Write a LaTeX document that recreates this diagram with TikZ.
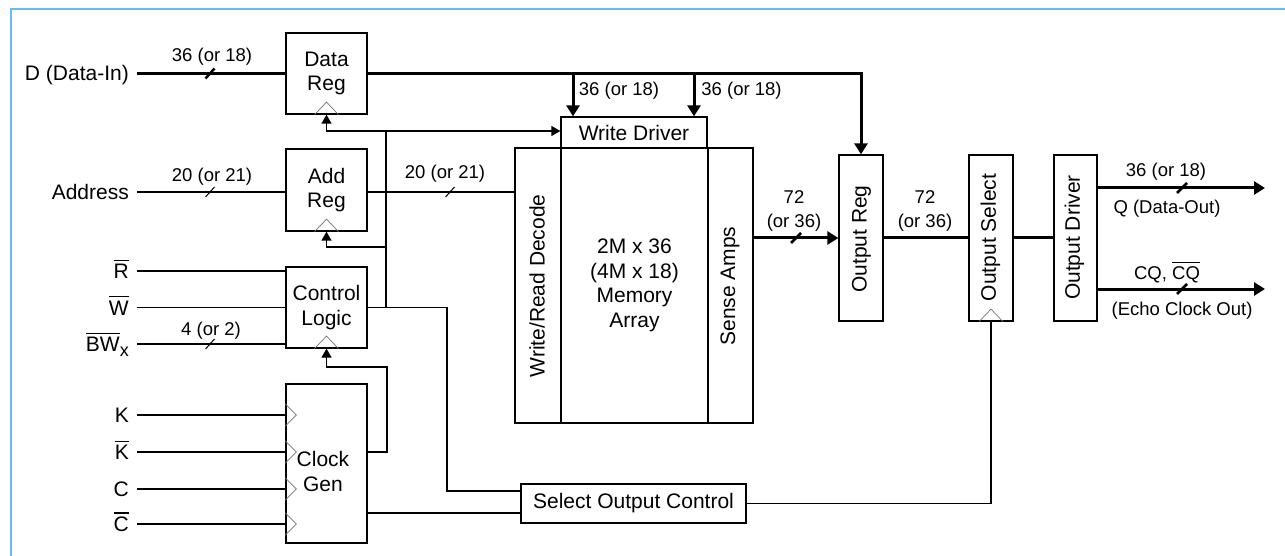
\documentclass[tikz,border=0pt]{standalone}
\usepackage{fontspec}
\setmainfont{Liberation Sans}
\usetikzlibrary{arrows.meta}
\definecolor{frameblue}{RGB}{100,187,250}
\newcommand{\olin}[1]{{\setbox0=\hbox{#1}\rlap{\raisebox{\dimexpr\ht0+3.2pt\relax}{\rule{\wd0}{1.2pt}}}\box0}}
\begin{document}
\begin{tikzpicture}[x=1pt,y=-1pt,
  every node/.style={inner sep=0pt},
  big/.style={font=\fontsize{21}{24.5}\selectfont},
  small/.style={font=\fontsize{18.5}{24}\selectfont},
  box/.style={draw, line width=1.3pt, big, align=center},
  inlbl/.style={big, anchor=east, text height=15pt, text depth=0pt},
  wire/.style={line width=1.3pt},
  bus/.style={line width=3pt},
  clktri/.style={draw=black!55, line width=0.7pt},
  arr/.style={-{Triangle[length=11pt,width=13pt]}},
  sarr/.style={-{Triangle[length=9pt,width=10pt]}},
  tick/.style={line width=1pt},
  btick/.style={line width=2.5pt},
]
\useasboundingbox (0,0) rectangle (1285,556);
\draw[frameblue, line width=2.2pt] (1285,9.3) -- (11.3,9.3) -- (11.3,556);

% boxes
\node[box, minimum width=81, minimum height=81] (dreg) at (326.5,73.5) {Data\\Reg};
\node[box, minimum width=81, minimum height=82] (areg) at (326.5,190) {Add\\Reg};
\node[box, minimum width=81, minimum height=81] (ctrl) at (326.5,307.5) {Control\\Logic};
\node[box, minimum width=81, minimum height=159] (cgen) at (326.5,463.5) {};
\node[big, align=center] (cgenT) at (323,471.5) {Clock\\Gen};
\node[box, minimum width=146, minimum height=31] (wdrv) at (634,132.5) {Write Driver};
\node[box, minimum width=46, minimum height=275] (wrd) at (538,285.5) {};
\node[big, rotate=90] (wrdT) at (537,286) {Write/Read Decode};
\node[box, minimum width=147, minimum height=275] (marr) at (634.5,285.5) {2M x 36\\(4M x 18)\\Memory\\Array};
\node[box, minimum width=45, minimum height=275] (samp) at (730.5,285.5) {};
\node[big, rotate=90] (sampT) at (730,286) {Sense Amps};
\node[box, minimum width=44, minimum height=166] (oreg) at (861,238) {};
\node[big, rotate=90] (oregT) at (861.5,239) {Output Reg};
\node[box, minimum width=44, minimum height=166] (osel) at (991,238) {};
\node[big, rotate=90] (oselT) at (990.5,237.5) {Output Select};
\node[box, minimum width=43, minimum height=166] (odrv) at (1075.5,238) {};
\node[big, rotate=90] (odrvT) at (1074.5,237.5) {Output Driver};
\node[box, minimum width=225, minimum height=39] (soc) at (633.5,503.5) {Select Output Control};

% clock triangles
\foreach \b in {dreg,areg,ctrl,osel}{
  \draw[clktri] ([xshift=-12pt]\b.south) -- ([yshift=12.5pt]\b.south) -- ([xshift=12pt]\b.south);
}

% input labels
\node[inlbl] (lD) at (129,73.5) {D (Data-In)};
\node[inlbl] (lA) at (129,192) {Address};
\node[inlbl] (lR) at (129,271) {\olin{R}};
\node[inlbl] (lW) at (129,307.5) {\olin{W}};
\node[inlbl] (lBW) at (129,344) {\olin{BW}\raisebox{-4.5pt}{\fontsize{18}{18}\selectfont x}};
\node[inlbl] (lK) at (129,415) {K};
\node[inlbl] (lKb) at (129,452) {\olin{K}};
\node[inlbl] (lC) at (129,489) {C};
\node[inlbl] (lCb) at (129,524) {\olin{C}};

% input wires
\draw[bus] ([xshift=8pt]lD.east) -- (dreg.west);
\foreach \l/\b in {lA/areg,lR/ctrl,lW/ctrl,lBW/ctrl,lK/cgen,lKb/cgen,lC/cgen,lCb/cgen}{
  \draw[wire] ([xshift=8pt]\l.east) -- (\l.east -| \b.west);
}
\foreach \l in {lK,lKb,lC,lCb}{
  \draw[clktri] ([yshift=11pt]\l.east -| cgen.west) -- ([xshift=11pt]\l.east -| cgen.west) -- ([yshift=-11pt]\l.east -| cgen.west);
}

% coordinates
\coordinate (jB1) at (573,73.5);
\coordinate (jB2) at (694,73.5);
\coordinate (clkTop) at (386,131);
\coordinate (clkA) at (386,247);
\coordinate (ctlS) at (447,491);
\coordinate (cgC) at (387,367);
\coordinate (socIn2) at (521,513);
\coordinate (qEnd) at (1265,188);
\coordinate (cqEnd) at (1265,289);

% data bus
\draw[bus,arr] (dreg.east) -- (dreg.east -| oreg.north) -- (oreg.north);
\draw[bus,arr] (jB1) -- (jB1 |- wdrv.north);
\draw[bus,arr] (jB2) -- (jB2 |- wdrv.north);

% address
\draw[wire] (areg.east |- lA.east) -- (lA.east -| wrd.west);

% clock / control network
\draw[wire] (ctrl.east) -- (ctrl.east -| clkTop) -- (clkTop);
\draw[wire,sarr] (clkTop) -- (clkTop -| dreg.south) -- (dreg.south);
\draw[wire,sarr] (clkTop) -- (clkTop -| wdrv.west);
\draw[wire,sarr] (clkA) -- (clkA -| areg.south) -- (areg.south);
\draw[wire] (ctrl.east) -- (ctrl.east -| ctlS) -- (ctlS) -- (ctlS -| soc.west);
\draw[wire,sarr] (lKb.east -| cgen.east) -- (lKb.east -| cgC) -- (cgC) -- (cgC -| ctrl.south) -- (ctrl.south);
\draw[wire] (socIn2 -| cgen.east) -- (socIn2);
\draw[wire] (soc.east) -- (soc.east -| osel.south) -- (osel.south);

% output path
\draw[bus,arr] (oreg.west -| samp.east) -- (oreg.west);
\draw[bus] (oreg.east) -- (osel.west);
\draw[bus] (osel.east) -- (odrv.west);
\draw[bus,arr] (qEnd -| odrv.east) -- (qEnd);
\draw[bus,arr] (cqEnd -| odrv.east) -- (cqEnd);

% bus ticks
\draw[btick] (210,73.5) +(-4.5,5) -- +(4.5,-5);
\draw[tick] (210,192) +(-4.5,5) -- +(4.5,-5);
\draw[tick] (210,344) +(-4.5,5) -- +(4.5,-5);
\draw[tick] (450,192) +(-4.5,5) -- +(4.5,-5);
\draw[btick] (796,238) +(-5,5) -- +(5,-5);
\draw[btick] (1182,188) +(-5,5) -- +(5,-5);
\draw[btick] (1182,289) +(-5,5) -- +(5,-5);

% bus labels
\node[small] (bD) at (212,57) {36 (or 18)};
\node[small] (bA) at (212,177) {20 (or 21)};
\node[small] (bBW) at (211,331) {4 (or 2)};
\node[small] (bAo) at (445,174) {20 (or 21)};
\node[small] (bW1) at (619,90.5) {36 (or 18)};
\node[small] (bW2) at (741.5,90.5) {36 (or 18)};
\node[small, align=center] (bS) at (794,211) {72\\(or 36)};
\node[small, align=center] (bO) at (925,211) {72\\(or 36)};
\node[small] (bQ) at (1166,172) {36 (or 18)};
\node[small] (lQ) at (1167,209) {Q (Data-Out)};
\node[small, text height=13.2pt, text depth=0pt] (lCQ) at (1167,272.5) {CQ, \olin{CQ}};
\node[small] (lEcho) at (1182,310.5) {(Echo Clock Out)};
\end{tikzpicture}
\end{document}
